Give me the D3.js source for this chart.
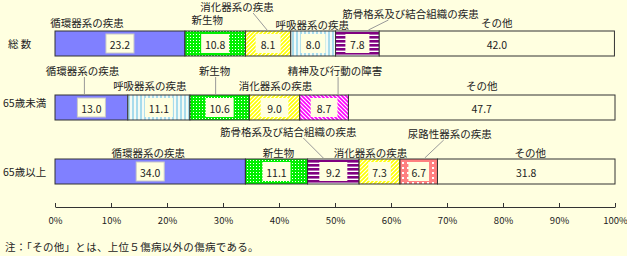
<!DOCTYPE html>
<html>
<head>
<meta charset="utf-8">
<script src="https://cdn.jsdelivr.net/npm/d3@7"></script>
<style>
  body { margin: 0; background: #ffffe0; }
  text { font-family: "Noto Sans CJK JP", sans-serif; font-size: 10.5px; fill: #222; }
</style>
</head>
<body>
<script>
// 行ラベル
var rowNames = ["総 数", "65歳未満", "65歳以上"];

// 総数
var catsTotal = ["循環器系の疾患", "新生物", "消化器系の疾患", "呼吸器系の疾患", "筋骨格系及び結合組織の疾患", "その他"];
var valsTotal = [23.2, 10.8, 8.1, 8.0, 7.8, 42.0];

// 65歳未満
var catsUnder = ["循環器系の疾患", "呼吸器系の疾患", "新生物", "消化器系の疾患", "精神及び行動の障害", "その他"];
var valsUnder = [13.0, 11.1, 10.6, 9.0, 8.7, 47.7];

// 65歳以上
var catsOver = ["循環器系の疾患", "新生物", "筋骨格系及び結合組織の疾患", "消化器系の疾患", "尿路性器系の疾患", "その他"];
var valsOver = [34.0, 11.1, 9.2, 7.3, 6.7, 31.8];

var tickValues = [0, 10, 20, 30, 40, 50, 60, 70, 80, 90, 100];
var noteText = "注：「その他」とは、上位５傷病以外の傷病である。";

// ラベル配置 (分類名の位置ずらし, 引出線)
var labelLayout = [
  [{dx: -33, dy: -9}, {dx: -8, dy: -12}, {dx: -31, dy: -25, lf: 16, lt: -1},
   {dx: -1, dy: -7}, {dx: 53, dy: -18, lf: -22, lt: 11}, {dx: 0, dy: -9}],
  [{dx: -9, dy: -25, lf: 2, lt: -7}, {dx: -9, dy: -10}, {dx: -5, dy: -25, lf: 1, lt: -4},
   {dx: 1, dy: -10}, {dx: 11, dy: -25, lf: 3, lt: 14}, {dx: 0, dy: -10}],
  [{dx: -2, dy: -7}, {dx: 2, dy: -7}, {dx: -45, dy: -28, lf: 15, lt: -10},
   {dx: -9, dy: -7}, {dx: 31, dy: -26, lf: -6, lt: 6}, {dx: 4, dy: -7}]
];
var rowLabelDy = [0, -5, 0];

var width = 627, height = 256;
var barH = 25;

var svg = d3.select("body").append("svg")
  .attr("width", width)
  .attr("height", height);

// 模様
var defs = svg.append("defs");
function pat(id, w, h) {
  return defs.append("pattern").attr("id", id).attr("patternUnits", "userSpaceOnUse")
    .attr("width", w).attr("height", h);
}
var p;
p = pat("pGreen", 3, 3);
p.append("rect").attr("width", 3).attr("height", 3).attr("fill", "#00f000");
p.append("rect").attr("x", 1).attr("y", 1).attr("width", 1).attr("height", 1).attr("fill", "#fff");
p = pat("pYellow", 4, 4);
p.append("rect").attr("width", 4).attr("height", 4).attr("fill", "#ffff00");
p.append("path").attr("d", "M-1,1L1,-1M0,4L4,0M3,5L5,3").attr("stroke", "#fff").attr("stroke-width", 1.2);
p = pat("pCyan", 4, 4);
p.append("rect").attr("width", 4).attr("height", 4).attr("fill", "#f4fbf4");
p.append("rect").attr("width", 2).attr("height", 4).attr("fill", "#a8dcec");
p = pat("pPurple", 4, 4);
p.append("rect").attr("width", 4).attr("height", 4).attr("fill", "#fff");
p.append("rect").attr("width", 4).attr("height", 2.6).attr("fill", "#800080");
p = pat("pMagenta", 4, 4);
p.append("rect").attr("width", 4).attr("height", 4).attr("fill", "#ff00ff");
p.append("path").attr("d", "M-1,3L1,5M0,0L4,4M3,-1L5,1").attr("stroke", "#fff").attr("stroke-width", 1.2);
p = pat("pPink", 5, 5);
p.append("rect").attr("width", 5).attr("height", 5).attr("fill", "#ff8080");
p.append("rect").attr("x", 2).attr("y", 2).attr("width", 2).attr("height", 2).attr("fill", "#fff");

var fills = {
  "循環器系の疾患": "#8080ff",
  "新生物": "url(#pGreen)",
  "消化器系の疾患": "url(#pYellow)",
  "呼吸器系の疾患": "url(#pCyan)",
  "筋骨格系及び結合組織の疾患": "url(#pPurple)",
  "精神及び行動の障害": "url(#pMagenta)",
  "尿路性器系の疾患": "url(#pPink)",
  "その他": "#ffffe0"
};

var x = d3.scaleLinear().domain([0, 100]).range([55, 615]);
var y = d3.scalePoint().domain(rowNames).range([31, 159]);

var rows = [
  {name: rowNames[0], cats: catsTotal, vals: valsTotal},
  {name: rowNames[1], cats: catsUnder, vals: valsUnder},
  {name: rowNames[2], cats: catsOver, vals: valsOver}
];

rows.forEach(function (row, ri) {
  var top = y(row.name);
  var g = svg.append("g");
  var start = 0;
  var segs = row.vals.map(function (v, i) {
    var s = {cat: row.cats[i], v: v, x0: start, x1: Math.min(start + v, 100)};
    start += v;
    return s;
  });

  // 行ラベル
  svg.append("text")
    .attr("x", ri === 0 ? 8 : 3)
    .attr("y", top + barH / 2 + rowLabelDy[ri])
    .attr("dominant-baseline", "central")
    .text(row.name);

  g.selectAll("rect.seg").data(segs).enter().append("rect")
    .attr("class", "seg")
    .attr("x", function (d) { return x(d.x0); })
    .attr("y", top)
    .attr("width", function (d) { return x(d.x1) - x(d.x0); })
    .attr("height", barH)
    .attr("fill", function (d) { return fills[d.cat]; })
    .attr("stroke", "#333")
    .attr("stroke-width", 1);

  // 数値の枠
  segs.forEach(function (d, i) {
    var cx = (x(d.x0) + x(d.x1)) / 2;
    var w = Math.min(28, (x(d.x1) - x(d.x0)) * 0.55);
    g.append("rect")
      .attr("x", cx - w / 2).attr("y", top + 3)
      .attr("width", w).attr("height", barH - 6)
      .attr("fill", "#ffffe0")
      .attr("stroke", i === 0 ? "#c8c8c8" : "none");
    g.append("text")
      .attr("x", cx).attr("y", top + barH / 2 + 0.5)
      .attr("text-anchor", "middle")
      .attr("dominant-baseline", "central")
      .text(d3.format(".1f")(d.v));

    var lay = labelLayout[ri][i];
    var lx = cx + lay.dx, ly = top + lay.dy;
    svg.append("text")
      .attr("x", lx).attr("y", ly)
      .attr("text-anchor", "middle")
      .attr("dominant-baseline", "central")
      .text(d.cat);
    if (lay.lf !== undefined) {
      svg.append("line")
        .attr("x1", lx + lay.lf).attr("y1", ly + 7)
        .attr("x2", cx + lay.lt).attr("y2", top - 1)
        .attr("stroke", "#999").attr("stroke-width", 1);
    }
  });
});

// 横軸
var xAxis = d3.axisBottom(x)
  .tickValues(tickValues)
  .tickSizeInner(-4)
  .tickSizeOuter(0)
  .tickPadding(10)
  .tickFormat(function (d) { return d + "%"; });

var ax = svg.append("g")
  .attr("transform", "translate(0,207)")
  .call(xAxis);
ax.select(".domain").attr("stroke", "#333");
ax.selectAll(".tick line").attr("stroke", "#333");
ax.selectAll(".tick text").style("font-size", "9.5px").style("font-family", "\"Noto Sans CJK JP\", sans-serif").attr("fill", "#222");

svg.append("text")
  .attr("x", 5).attr("y", 246)
  .attr("dominant-baseline", "central")
  .style("letter-spacing", "0.3px")
  .text(noteText);
</script>
</body>
</html>
